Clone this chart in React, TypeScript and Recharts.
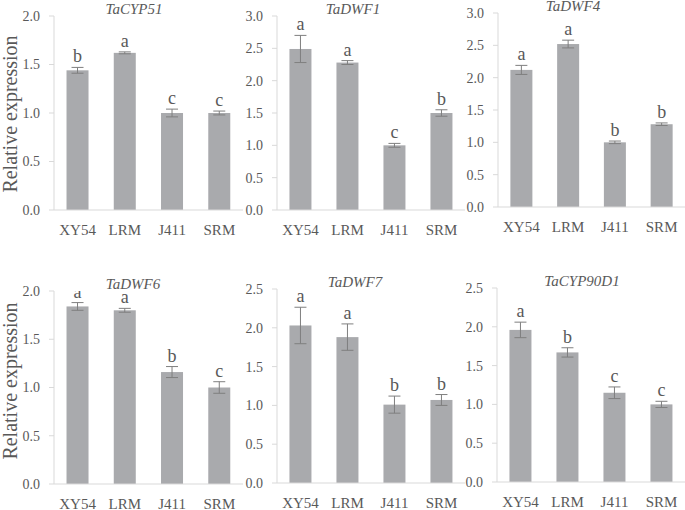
import React from 'react';
import { BarChart, Bar, XAxis, YAxis, ErrorBar } from 'recharts';

const categories = ['XY54', 'LRM', 'J411', 'SRM'];

const cyp51Values = [1.44, 1.62, 1.0, 1.0];
const cyp51Errors = [0.03, 0.01, 0.04, 0.02];
const cyp51Letters = ['b', 'a', 'c', 'c'];

const dwf1Values = [2.49, 2.28, 1.0, 1.5];
const dwf1Errors = [0.21, 0.03, 0.03, 0.05];
const dwf1Letters = ['a', 'a', 'c', 'b'];

const dwf4Values = [2.12, 2.52, 1.0, 1.28];
const dwf4Errors = [0.07, 0.06, 0.02, 0.02];
const dwf4Letters = ['a', 'a', 'b', 'b'];

const dwf6Values = [1.84, 1.8, 1.16, 1.0];
const dwf6Errors = [0.04, 0.02, 0.057, 0.06];
const dwf6Letters = ['a', 'a', 'b', 'c'];

const dwf7Values = [2.03, 1.88, 1.01, 1.07];
const dwf7Errors = [0.235, 0.17, 0.11, 0.07];
const dwf7Letters = ['a', 'a', 'b', 'b'];

const cyp90d1Values = [1.96, 1.67, 1.15, 1.0];
const cyp90d1Errors = [0.1, 0.06, 0.075, 0.04];
const cyp90d1Letters = ['a', 'b', 'c', 'c'];

const ticks20 = [0, 0.5, 1.0, 1.5, 2.0];
const ticks25 = [0, 0.5, 1.0, 1.5, 2.0, 2.5];
const ticks30 = [0, 0.5, 1.0, 1.5, 2.0, 2.5, 3.0];

const yAxisTitle = 'Relative expression';

const FONT = '"Liberation Serif", "Times New Roman", serif';
const TEXT = '#595959';
const AXIS = '#D9D9D9';
const BAR = '#A9AAAD';
const ERR = '#7F7F7F';

const panels = [
  { gene: 'TaCYP51', values: cyp51Values, errors: cyp51Errors, letters: cyp51Letters, ticks: ticks20,
    layout: { axisX: 54, right: 243, top: 16, bottom: 210, titleX: 134, titleY: 10 } },
  { gene: 'TaDWF1', values: dwf1Values, errors: dwf1Errors, letters: dwf1Letters, ticks: ticks30,
    layout: { axisX: 277, right: 465, top: 16, bottom: 210, titleX: 353, titleY: 10 } },
  { gene: 'TaDWF4', values: dwf4Values, errors: dwf4Errors, letters: dwf4Letters, ticks: ticks30,
    layout: { axisX: 498, right: 685, top: 13, bottom: 207, titleX: 573, titleY: 7 } },
  { gene: 'TaDWF6', values: dwf6Values, errors: dwf6Errors, letters: dwf6Letters, ticks: ticks20,
    layout: { axisX: 54, right: 243, top: 291, bottom: 484, titleX: 133, titleY: 285 } },
  { gene: 'TaDWF7', values: dwf7Values, errors: dwf7Errors, letters: dwf7Letters, ticks: ticks25,
    layout: { axisX: 277, right: 465, top: 289, bottom: 483, titleX: 355, titleY: 283 } },
  { gene: 'TaCYP90D1', values: cyp90d1Values, errors: cyp90d1Errors, letters: cyp90d1Letters, ticks: ticks25,
    layout: { axisX: 497, right: 685, top: 288, bottom: 482, titleX: 582, titleY: 282 } },
];

const Y_W = 54;
const TOP_PAD = 20;
const X_H = 30;

function LetterBar(props: any) {
  const { x, y, width, height, payload } = props;
  const v = payload?.value ?? 0;
  const pxPerUnit = v > 0 ? height / v : 0;
  const errTop = y - (payload?.err ?? 0) * pxPerUnit;
  return (
    <g>
      <rect x={x} y={y} width={width} height={height} fill={BAR} />
      <text
        x={x + width / 2}
        y={errTop - 5}
        textAnchor="middle"
        fontFamily={FONT}
        fontSize={18}
        fill={TEXT}
      >
        {payload?.letter}
      </text>
    </g>
  );
}

function Panel({ p }: { p: any }) {
  const L = p.layout;
  const data = categories.map((c, i) => ({
    name: c,
    value: p.values[i],
    err: p.errors[i],
    letter: p.letters[i],
  }));
  const width = Y_W + (L.right - L.axisX);
  const height = TOP_PAD + (L.bottom - L.top) + X_H;
  const ymax = p.ticks[p.ticks.length - 1];
  return (
    <>
      <div
        style={{
          position: 'absolute',
          left: L.axisX - Y_W,
          top: L.top - TOP_PAD,
        }}
      >
        <BarChart
          width={width}
          height={height}
          data={data}
          margin={{ top: TOP_PAD, right: 0, bottom: 0, left: 0 }}
          barCategoryGap="26.5%"
        >
          <XAxis
            dataKey="name"
            height={X_H}
            axisLine={{ stroke: AXIS }}
            tickLine={false}
            tickSize={0}
            tickMargin={14}
            interval={0}
            tick={{ fontFamily: FONT, fontSize: 15, fill: TEXT }}
          />
          <YAxis
            width={Y_W}
            domain={[0, ymax]}
            ticks={p.ticks}
            interval={0}
            allowDataOverflow
            axisLine={{ stroke: AXIS }}
            tickLine={{ stroke: AXIS }}
            tickSize={5}
            tickMargin={9}
            tickFormatter={(v: number) => v.toFixed(1)}
            tick={{ fontFamily: FONT, fontSize: 14, fill: TEXT }}
          />
          <Bar dataKey="value" fill={BAR} isAnimationActive={false} shape={<LetterBar />}>
            <ErrorBar dataKey="err" width={6} stroke={ERR} strokeWidth={1} direction="y" />
          </Bar>
        </BarChart>
      </div>
      <div
        style={{
          position: 'absolute',
          left: L.titleX - 60,
          top: L.titleY - 8,
          width: 120,
          textAlign: 'center',
          fontFamily: FONT,
          fontStyle: 'italic',
          fontSize: 15,
          lineHeight: '15px',
          color: TEXT,
          whiteSpace: 'nowrap',
        }}
      >
        {p.gene}
      </div>
    </>
  );
}

function YTitle({ cy }: { cy: number }) {
  return (
    <div
      style={{
        position: 'absolute',
        left: 10 - 90,
        top: cy - 11,
        width: 180,
        height: 22,
        lineHeight: '22px',
        textAlign: 'center',
        transform: 'rotate(-90deg)',
        fontFamily: FONT,
        fontSize: 20,
        color: TEXT,
        whiteSpace: 'nowrap',
      }}
    >
      {yAxisTitle}
    </div>
  );
}

export default function App() {
  return (
    <div
      style={{
        position: 'absolute',
        left: 0,
        top: 0,
        width: 685,
        height: 510,
        background: '#fff',
        overflow: 'hidden',
      }}
    >
      {panels.map((p) => (
        <Panel key={p.gene} p={p} />
      ))}
      <YTitle cy={114} />
      <YTitle cy={381} />
    </div>
  );
}
